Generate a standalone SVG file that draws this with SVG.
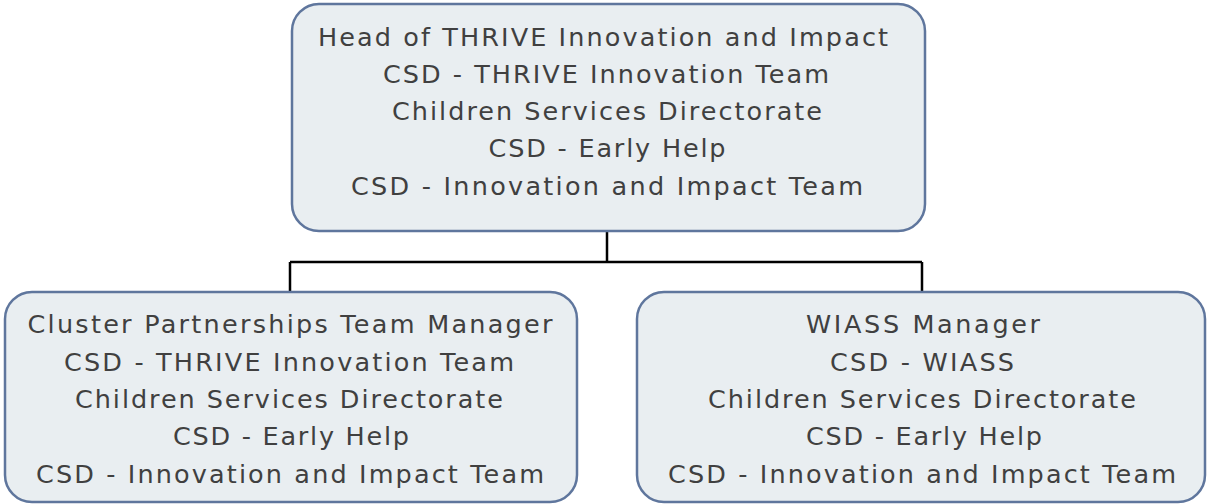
<svg xmlns="http://www.w3.org/2000/svg" width="1209" height="504" viewBox="0 0 1209 504">
<style>
.box{fill:#E9EEF1;stroke:#5F769D;stroke-width:2.5}
.t{font-family:"DejaVu Sans",Verdana,sans-serif;font-size:25.5px;fill:#404040;text-anchor:middle}
.c{fill:none;stroke:#000;stroke-width:2.5}
</style>
<rect width="1209" height="504" fill="#fff"/>
<g id="connectors">
<path class="c" d="M607 231 V262 M290 262 H922 M290 262 V292 M922 262 V292"/>
</g>
<g id="n_head">
<rect class="box" x="292" y="4" width="633" height="227" rx="27"/>
<text class="t" x="603" y="46" textLength="570" lengthAdjust="spacing">Head of THRIVE Innovation and Impact</text>
<text class="t" x="606" y="83" textLength="446" lengthAdjust="spacing">CSD - THRIVE Innovation Team</text>
<text class="t" x="607" y="120" textLength="430" lengthAdjust="spacing">Children Services Directorate</text>
<text class="t" x="607" y="157" textLength="237" lengthAdjust="spacing">CSD - Early Help</text>
<text class="t" x="607" y="195" textLength="512" lengthAdjust="spacing">CSD - Innovation and Impact Team</text>
</g>
<g id="n_cluster">
<rect class="box" x="5" y="292" width="572" height="210" rx="27"/>
<text class="t" x="290" y="333" textLength="525" lengthAdjust="spacing">Cluster Partnerships Team Manager</text>
<text class="t" x="289" y="371" textLength="450" lengthAdjust="spacing">CSD - THRIVE Innovation Team</text>
<text class="t" x="289" y="408" textLength="428" lengthAdjust="spacing">Children Services Directorate</text>
<text class="t" x="291" y="445" textLength="236" lengthAdjust="spacing">CSD - Early Help</text>
<text class="t" x="290" y="483" textLength="508" lengthAdjust="spacing">CSD - Innovation and Impact Team</text>
</g>
<g id="n_wiass">
<rect class="box" x="637" y="292" width="568" height="210" rx="27"/>
<text class="t" x="923" y="333" textLength="234" lengthAdjust="spacing">WIASS Manager</text>
<text class="t" x="922" y="371" textLength="184" lengthAdjust="spacing">CSD - WIASS</text>
<text class="t" x="922" y="408" textLength="428" lengthAdjust="spacing">Children Services Directorate</text>
<text class="t" x="924" y="445" textLength="236" lengthAdjust="spacing">CSD - Early Help</text>
<text class="t" x="922" y="483" textLength="508" lengthAdjust="spacing">CSD - Innovation and Impact Team</text>
</g>
</svg>
